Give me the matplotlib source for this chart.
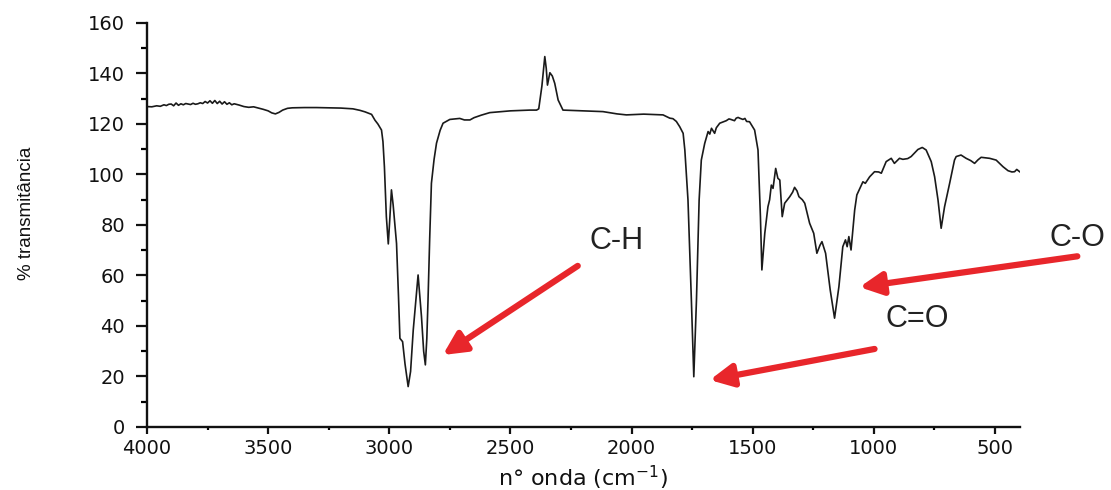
import matplotlib
matplotlib.use("Agg")
import matplotlib.pyplot as plt
from matplotlib.ticker import MultipleLocator

wavenumber = [4000, 3980, 3960, 3945, 3930, 3920, 3910, 3900, 3890, 3880, 3870, 3860, 3850, 3840,
              3830, 3820, 3810, 3800, 3790, 3780, 3770, 3760, 3750, 3740, 3730, 3720, 3710, 3700,
              3690, 3680, 3670, 3660, 3650, 3640, 3620, 3600, 3580, 3560, 3540, 3520, 3500, 3485,
              3470, 3455, 3440, 3420, 3400, 3350, 3300, 3250, 3200, 3150, 3121, 3100, 3073, 3059,
              3047, 3032, 3026, 3020, 3012, 3004, 2998, 2991, 2984, 2970, 2962, 2956, 2945, 2935,
              2922, 2912, 2901, 2881, 2874, 2867, 2858, 2851, 2845, 2840, 2833, 2826, 2815, 2805,
              2790, 2778, 2750, 2709, 2690, 2667, 2650, 2620, 2585, 2500, 2420, 2392, 2383, 2370,
              2358, 2352, 2347, 2337, 2327, 2317, 2303, 2283, 2200, 2118, 2060, 2021, 1950, 1900,
              1870, 1842, 1829, 1815, 1801, 1787, 1780, 1767, 1753, 1743, 1732, 1721, 1712, 1698,
              1684, 1677, 1670, 1657, 1650, 1636, 1622, 1609, 1598, 1590, 1575, 1568, 1560, 1554,
              1540, 1532, 1525, 1513, 1492, 1478, 1468, 1462, 1450, 1437, 1430, 1423, 1416, 1405,
              1396, 1388, 1378, 1368, 1347, 1335, 1327, 1317, 1309, 1295, 1285, 1265, 1248, 1235,
              1222, 1214, 1199, 1180, 1162, 1144, 1128, 1117, 1110, 1103, 1094, 1079, 1070, 1045,
              1035, 1017, 997, 980, 969, 949, 928, 915, 894, 880, 860, 846, 818, 800, 784, 763,
              749, 735, 722, 708, 687, 667, 660, 640, 619, 600, 584, 570, 557, 522, 495, 467,
              446, 430, 419, 410, 398]
transmittance = [126.9, 126.8, 127.2, 127.0, 127.6, 127.3, 127.8, 127.9, 127.2, 128.3, 127.4, 128.0,
                 127.6, 128.1, 127.9, 127.7, 128.2, 127.8, 128.0, 128.4, 128.1, 128.9, 128.3, 129.2,
                 128.2, 129.3, 128.1, 129.0, 127.9, 128.8, 127.8, 128.4, 127.6, 128.0, 127.5, 126.9,
                 126.6, 126.8, 126.3, 125.8, 125.2, 124.4, 124.0, 124.6, 125.5, 126.2, 126.4, 126.5,
                 126.5, 126.4, 126.3, 126.0, 125.4, 124.8, 123.8, 121.5, 120.0, 117.6, 113.0, 103.0,
                 83.3, 72.5, 82.0, 93.9, 88.0, 72.7, 52.0, 35.1, 33.8, 25.0, 16.0, 22.0, 38.4, 60.2,
                 52.0, 43.7, 30.0, 24.6, 35.0, 50.3, 75.0, 96.5, 106.0, 112.4, 117.5, 120.3, 121.8,
                 122.2, 121.6, 121.6, 122.5, 123.5, 124.5, 125.2, 125.5, 125.5, 126.0, 135.0, 146.7,
                 142.0, 135.4, 140.3, 139.0, 136.1, 129.5, 125.5, 125.2, 124.9, 124.0, 123.6, 123.9,
                 123.7, 123.6, 122.3, 122.1, 121.0, 118.9, 116.3, 109.7, 89.9, 50.3, 19.9, 50.3, 89.9,
                 105.7, 112.3, 117.0, 116.0, 118.3, 116.3, 118.5, 120.3, 120.8, 121.3, 122.0, 121.8,
                 121.3, 122.3, 122.6, 122.3, 121.8, 122.2, 121.0, 120.9, 117.6, 109.7, 83.3, 62.2,
                 76.7, 87.2, 90.0, 95.8, 94.5, 102.4, 98.5, 97.8, 83.3, 88.6, 91.2, 93.0, 94.9, 93.5,
                 91.2, 90.0, 88.6, 80.7, 76.7, 68.8, 72.0, 73.4, 68.8, 54.3, 43.1, 55.6, 71.4, 74.1,
                 71.4, 75.4, 70.1, 85.9, 91.9, 97.1, 96.5, 99.1, 101.1, 101.0, 100.5, 105.1, 106.4,
                 104.4, 106.4, 106.0, 106.3, 107.1, 109.9, 110.7, 109.7, 105.1, 99.1, 89.9, 78.7,
                 87.2, 96.5, 105.7, 107.1, 107.7, 106.4, 105.5, 104.4, 105.8, 106.8, 106.4, 105.7,
                 103.1, 101.5, 101.0, 101.1, 102.0, 101.1]

labels = ["C-H", "C=O", "C-O"]
label_pos = [(2061, 73.7), (819, 42.8), (159, 74.9)]
arrow_tails = [(2222, 63.8), (997, 30.9), (160, 67.6)]
arrow_tips = [(2779, 28.5), (1677, 18.6), (1059, 55.4)]

red = "#e8262b"

fig = plt.figure(figsize=(11.11, 4.90), dpi=100)
ax = fig.add_axes([0.1323, 0.1286, 0.7857, 0.8245])

ax.plot(wavenumber, transmittance, color="#1a1a1a", lw=1.2)

ax.set_xlim(4000, 397)
ax.set_ylim(0, 160)
ax.xaxis.set_major_locator(MultipleLocator(500))
ax.xaxis.set_minor_locator(MultipleLocator(250))
ax.yaxis.set_major_locator(MultipleLocator(20))
ax.yaxis.set_minor_locator(MultipleLocator(10))

for s in ["top", "right"]:
    ax.spines[s].set_visible(False)
for s in ["left", "bottom"]:
    ax.spines[s].set_linewidth(1.7)
    ax.spines[s].set_color("#111111")

ax.tick_params(axis="y", which="major", direction="out", length=8, width=1.6, pad=8,
               labelsize=14, colors="#111111")
ax.tick_params(axis="y", which="minor", direction="out", length=4, width=1.6)
ax.tick_params(axis="x", which="major", direction="out", length=5, width=1.6, pad=4,
               labelsize=14, colors="#111111")
ax.tick_params(axis="x", which="minor", direction="out", length=2.5, width=1.6)
for lab in ax.get_xticklabels() + ax.get_yticklabels():
    lab.set_family("DejaVu Sans")

ax.set_xlabel("n° onda (cm$^{-1}$)", fontsize=16, family="DejaVu Sans", color="#111111",
              labelpad=4)
ax.set_ylabel("% transmitância", fontsize=13.5, family="Liberation Sans", color="#111111")
ax.yaxis.set_label_coords(-0.128, 0.53)

for (tx, ty), (hx, hy) in zip(arrow_tails, arrow_tips):
    ax.annotate("", xy=(hx, hy), xytext=(tx, ty), annotation_clip=False,
                arrowprops=dict(arrowstyle="-|>", color=red, lw=4.5, mutation_scale=34,
                                shrinkA=0, shrinkB=0))

for lab, (x, y) in zip(labels, label_pos):
    ax.text(x, y, lab, fontsize=22, family="Liberation Sans", color="#222222",
            ha="center", va="center", clip_on=False)

fig.savefig("out.png", dpi=100)
